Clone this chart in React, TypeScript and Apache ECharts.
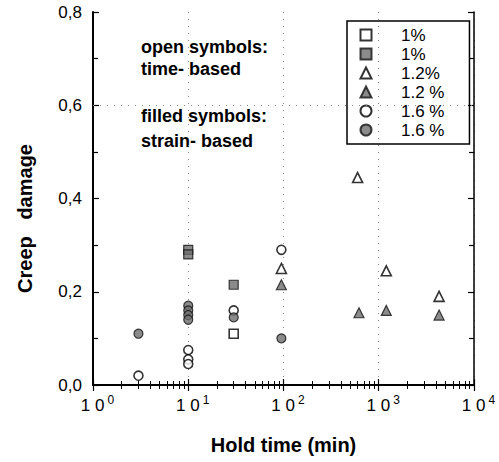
import React, { useEffect, useRef } from "react";
import * as echarts from "echarts";

const seriesNames = ["1% time", "1% strain", "1.2% time", "1.2% strain", "1.6% time", "1.6% strain"];
const legendLabels = ["1%", "1%", "1.2%", "1.2 %", "1.6 %", "1.6 %"];

const sq1Open = [[30, 0.11]];
const sq1Filled = [[10, 0.29], [10, 0.28], [30, 0.215]];
const tri12Open = [[95, 0.25], [600, 0.445], [1200, 0.245], [4300, 0.19]];
const tri12Filled = [[95, 0.215], [620, 0.155], [1200, 0.16], [4300, 0.15]];
const circ16Open = [[3, 0.02], [10, 0.075], [10, 0.055], [10, 0.045], [30, 0.16], [95, 0.29]];
const circ16Filled = [[3, 0.11], [10, 0.17], [10, 0.16], [10, 0.15], [10, 0.14], [30, 0.145], [95, 0.1]];

const refLineY = 0.6;
const annotations = ["open symbols:", "time- based", "filled symbols:", "strain- based"];

const FONT = "'Liberation Sans', Arial, Helvetica, sans-serif";
const GRAY = "#6e6e6e";

const openStyle = { color: "#ffffff", borderColor: "#000000", borderWidth: 1.6 };
const filledStyle = { color: GRAY, borderColor: "#111111", borderWidth: 1.2 };

function buildOption() {
  const axisLine = { show: true, lineStyle: { color: "#000", width: 2 } };
  const tick = { show: true, inside: true, length: 6, lineStyle: { color: "#000", width: 1.2 } };
  const xMinor = { show: true, splitNumber: 9, length: 4, lineStyle: { color: "#000", width: 1 } };
  const yMinor = { show: true, splitNumber: 2, length: 5, lineStyle: { color: "#000", width: 1.2 } };
  const mk = (i: number, data: number[][], symbol: string, size: number, style: any, extra: any = {}) => ({
    type: "scatter",
    name: seriesNames[i],
    data,
    symbol,
    symbolSize: size,
    itemStyle: style,
    xAxisIndex: 0,
    yAxisIndex: 0,
    ...extra,
  });
  return {
    animation: false,
    backgroundColor: "#ffffff",
    textStyle: { fontFamily: FONT },
    grid: { left: 93, right: 25, top: 12, bottom: 77 },
    legend: {
      orient: "vertical",
      left: 347,
      top: 21,
      itemWidth: 11,
      itemHeight: 11,
      itemGap: 1,
      padding: [5, 25, 5, 12.5],
      borderColor: "#000",
      borderWidth: 1.5,
      data: seriesNames,
      formatter: (name: string) => legendLabels[seriesNames.indexOf(name)],
      textStyle: { fontFamily: FONT, fontSize: 17, color: "#000", lineHeight: 18, padding: [0, 0, 0, 24.5] },
    },
    xAxis: [
      {
        type: "log",
        logBase: 10,
        min: 1,
        max: 10000,
        position: "bottom",
        name: "Hold time (min)",
        nameLocation: "middle",
        nameGap: 50,
        nameTextStyle: { fontFamily: FONT, fontSize: 20, fontWeight: "bold", color: "#000" },
        axisLine,
        axisTick: tick,
        minorTick: xMinor,
        splitLine: { show: true, lineStyle: { color: "#8a8a8a", width: 1, type: [1, 6] } },
        axisLabel: {
          margin: 9,
          padding: [0, 0, 0, 9],
          formatter: (v: number) => `{b|1 0}{s|${Math.round(Math.log10(v))}}`,
          rich: {
            b: { fontFamily: FONT, fontSize: 17, color: "#000", lineHeight: 20, verticalAlign: "bottom" },
            s: { fontFamily: FONT, fontSize: 12, color: "#000", verticalAlign: "top", padding: [0, 0, 2, 3] },
          },
        },
      },
      {
        type: "log",
        logBase: 10,
        min: 1,
        max: 10000,
        position: "top",
        axisLine: { show: true, lineStyle: { color: "#000", width: 1.5 } },
        axisTick: tick,
        minorTick: xMinor,
        axisLabel: { show: false },
        splitLine: { show: false },
      },
    ],
    yAxis: [
      {
        type: "value",
        min: 0,
        max: 0.8,
        interval: 0.2,
        position: "left",
        name: "Creep   damage",
        nameLocation: "middle",
        nameGap: 58,
        nameTextStyle: { fontFamily: FONT, fontSize: 20, fontWeight: "bold", color: "#000", padding: [0, 40, 0, 0] },
        axisLine,
        axisTick: tick,
        minorTick: yMinor,
        splitLine: { show: false },
        axisLabel: {
          margin: 11,
          fontFamily: FONT,
          fontSize: 17,
          color: "#000",
          formatter: (v: number) => v.toFixed(1).replace(".", ","),
        },
      },
      {
        type: "value",
        min: 0,
        max: 0.8,
        interval: 0.2,
        position: "right",
        axisLine: { show: true, lineStyle: { color: "#000", width: 1.5 } },
        axisTick: tick,
        minorTick: yMinor,
        splitLine: { show: false },
        axisLabel: { show: false },
      },
    ],
    graphic: annotations.map((t, i) => ({
      type: "text",
      left: 141,
      top: [38, 60, 107, 132][i],
      style: { text: t, fontFamily: FONT, fontSize: 18, fontWeight: "bold", fill: "#000" },
      silent: true,
    })),
    series: [
      mk(0, sq1Open, "rect", 9, openStyle, {
        markLine: {
          silent: true,
          symbol: "none",
          label: { show: false },
          lineStyle: { color: "#8a8a8a", width: 1, type: [1, 6] },
          data: [{ yAxis: refLineY }],
        },
      }),
      mk(1, sq1Filled, "rect", 9, filledStyle),
      mk(2, tri12Open, "triangle", 10, openStyle),
      mk(3, tri12Filled, "triangle", 10, filledStyle),
      mk(4, circ16Open, "circle", 9, openStyle),
      mk(5, circ16Filled, "circle", 9, filledStyle),
    ],
  };
}

export default function App() {
  const ref = useRef<HTMLDivElement>(null);
  useEffect(() => {
    const chart = echarts.init(ref.current as HTMLDivElement, null, { renderer: "svg" });
    chart.setOption(buildOption() as any);
    return () => chart.dispose();
  }, []);
  return <div ref={ref} style={{ position: "absolute", left: 0, top: 0, width: 499, height: 462 }} />;
}
